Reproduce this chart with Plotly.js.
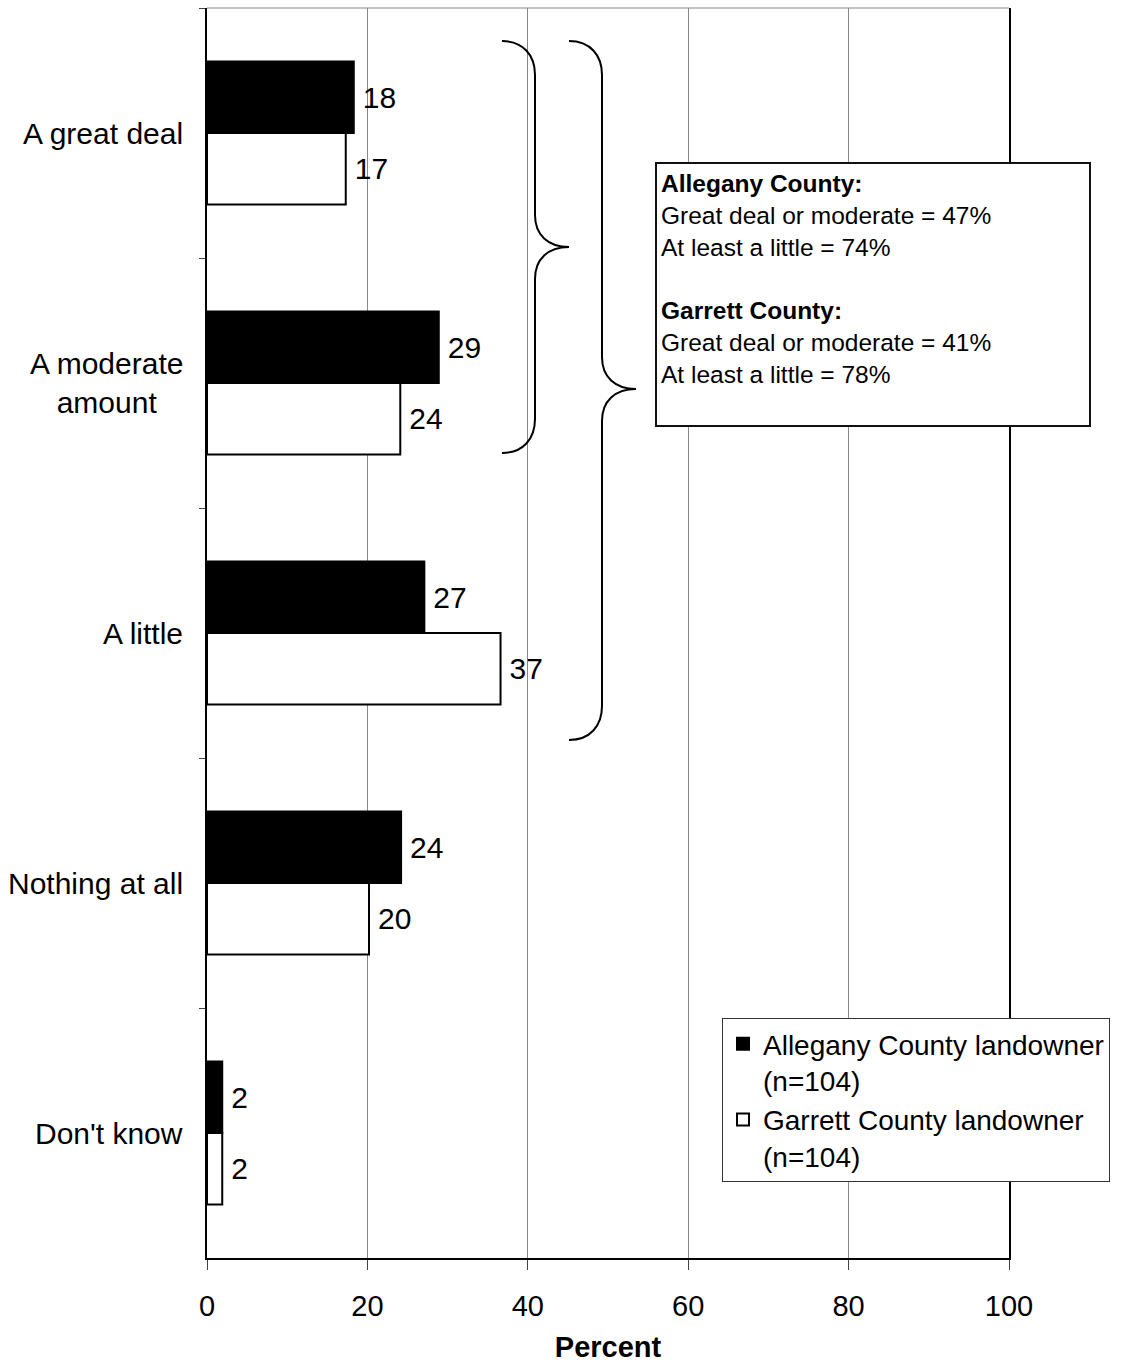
<!DOCTYPE html>
<html>
<head>
<meta charset="utf-8">
<script src="https://cdn.plot.ly/plotly-3.0.1.min.js"></script>
<style>
  html, body { margin: 0; padding: 0; background: #fff; }
  #chart { width: 1123px; height: 1365px; }
</style>
</head>
<body>
<div id="chart"></div>
<script>
// ---- Data ----
const categories = ["A great deal", "A moderate amount", "A little", "Nothing at all", "Don't know"];
const categoryLabels = ["A great deal", "A moderate<br>amount", "A little", "Nothing at all", "Don't know"];
const alleganyValues = [18.3, 28.9, 27.1, 24.2, 1.9];
const garrettValues = [17.3, 24.1, 36.6, 20.2, 1.9];
const alleganyLabels = ["18", "29", "27", "24", "2"];
const garrettLabels = ["17", "24", "37", "20", "2"];
const seriesNames = ["Allegany County landowner<br>(n=104)", "Garrett County landowner<br>(n=104)"];
const xTickValues = [0, 20, 40, 60, 80, 100];
const xTickLabels = ["0", "20", "40", "60", "80", "100"];
const summaryLines = [
  "<b>Allegany County:</b>",
  "Great deal or moderate = 47%",
  "At least a little = 74%",
  "",
  "<b>Garrett County:</b>",
  "Great deal or moderate = 41%",
  "At least a little = 78%"
];
const axisTitle = "Percent";

// ---- Layout geometry (pixels) ----
const W = 1123, H = 1365;
const M = { l: 207, r: 114, t: 8, b: 107 };
const PW = W - M.l - M.r, PH = H - M.t - M.b;
function px(x, y) { // pixel -> paper
  return ((x - M.l) / PW).toFixed(5) + "," + ((H - M.b - y) / PH).toFixed(5);
}
function bracePath(xEnd, xMid, xTip, yTop, yTip, yBot) {
  const r = 34;
  return "M" + px(xEnd, yTop) +
    " C" + px(xEnd + 21, yTop) + " " + px(xMid, yTop + 14) + " " + px(xMid, yTop + r) +
    " L" + px(xMid, yTip - 32) +
    " C" + px(xMid, yTip - 12) + " " + px(xMid + 13, yTip) + " " + px(xTip, yTip) +
    " C" + px(xMid + 13, yTip) + " " + px(xMid, yTip + 12) + " " + px(xMid, yTip + 32) +
    " L" + px(xMid, yBot - r) +
    " C" + px(xMid, yBot - 14) + " " + px(xEnd + 21, yBot) + " " + px(xEnd, yBot);
}

const FONT = "Liberation Sans, Arial, sans-serif";

const traces = [
  {
    type: "bar", orientation: "h", name: seriesNames[0],
    y: categories, x: alleganyValues,
    text: alleganyLabels, texttemplate: "\u2009%{text}",
    textposition: "outside", constraintext: "none",
    textfont: { family: FONT, size: 30, color: "#000" },
    cliponaxis: false,
    marker: { color: "#000", line: { color: "#000", width: 2 } },
    hoverinfo: "x+y"
  },
  {
    type: "bar", orientation: "h", name: seriesNames[1],
    y: categories, x: garrettValues,
    text: garrettLabels, texttemplate: "\u2009%{text}",
    textposition: "outside", constraintext: "none",
    textfont: { family: FONT, size: 30, color: "#000" },
    cliponaxis: false,
    marker: { color: "#fff", line: { color: "#000", width: 2 } },
    hoverinfo: "x+y"
  }
];

const annotations = categories.map((c, i) => ({
  xref: "paper", yref: "y", x: 0, y: c, xanchor: "right", yanchor: "middle",
  xshift: -22, align: "center", showarrow: false,
  text: categoryLabels[i], font: { family: FONT, size: 30, color: "#000" }
}));
annotations.push({
  xref: "paper", yref: "paper",
  x: (659 - M.l) / PW, y: (H - M.b - 168) / PH,
  xanchor: "left", yanchor: "top", align: "left", showarrow: false,
  text: summaryLines.join("<br>"),
  font: { family: FONT, size: 24.5, color: "#000" }
});

const shapes = [
  // top border (thin gray)
  { type: "line", xref: "paper", yref: "paper", x0: 0, x1: 1, y0: 1, y1: 1,
    line: { color: "#888", width: 1 }, layer: "below" },
  // summary box
  { type: "rect", xref: "paper", yref: "paper",
    x0: (656 - M.l) / PW, x1: (1090 - M.l) / PW,
    y0: (H - M.b - 426) / PH, y1: (H - M.b - 163) / PH,
    fillcolor: "#fff", line: { color: "#111", width: 2 }, layer: "above" },
  // braces
  { type: "path", xref: "paper", yref: "paper", layer: "above",
    path: bracePath(502, 535, 569, 41, 247, 453), line: { color: "#000", width: 2 } },
  { type: "path", xref: "paper", yref: "paper", layer: "above",
    path: bracePath(569, 602, 636, 41, 389, 740), line: { color: "#000", width: 2 } }
];

const layout = {
  width: W, height: H,
  margin: { l: M.l, r: M.r, t: M.t, b: M.b, pad: 0, autoexpand: false },
  paper_bgcolor: "#fff", plot_bgcolor: "#fff",
  font: { family: FONT, size: 28, color: "#000" },
  barmode: "group", bargap: 0.428, bargroupgap: 0,
  showlegend: true,
  legend: {
    x: (722 - M.l) / PW, y: (H - M.b - 1018) / PH,
    xanchor: "left", yanchor: "top",
    bgcolor: "#fff", bordercolor: "#333", borderwidth: 1,
    font: { family: FONT, size: 28, color: "#000" },
    traceorder: "normal", valign: "top", tracegroupgap: 0
  },
  xaxis: {
    range: [0, 100], tickvals: xTickValues, ticktext: xTickLabels,
    showgrid: true, gridcolor: "#888", gridwidth: 1,
    zeroline: false,
    showline: true, linecolor: "#000", linewidth: 2,
    ticks: "outside", ticklen: 10, tickwidth: 1, tickcolor: "#444",
    ticklabelstandoff: 11,
    tickfont: { family: FONT, size: 29, color: "#000" },
    title: { text: "<b>" + axisTitle + "</b>", standoff: 16,
             font: { family: FONT, size: 29, color: "#000" } },
    fixedrange: true
  },
  yaxis: {
    type: "category", categoryorder: "array", categoryarray: categories,
    range: [4.5, -0.5],
    showgrid: false, zeroline: false,
    showline: true, linecolor: "#000", linewidth: 2, mirror: true,
    ticks: "outside", tickson: "boundaries", ticklen: 6, tickwidth: 1, tickcolor: "#444",
    showticklabels: false,
    fixedrange: true
  },
  annotations: annotations,
  shapes: shapes
};

Plotly.newPlot("chart", traces, layout, { displayModeBar: false, staticPlot: true });
</script>
</body>
</html>
